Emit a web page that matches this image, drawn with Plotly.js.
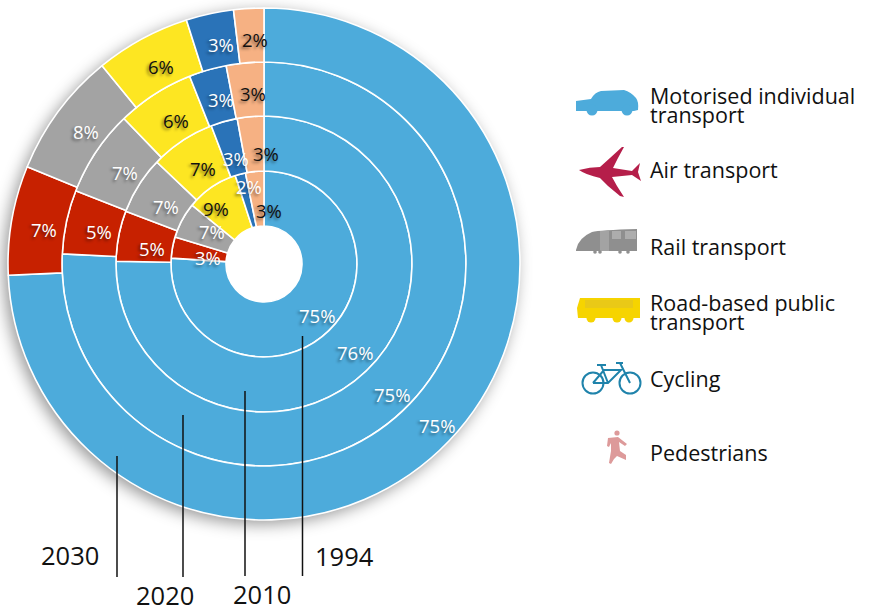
<!DOCTYPE html>
<html><head><meta charset="utf-8">
<script src="https://cdn.plot.ly/plotly-3.0.1.min.js"></script>
<style>
html,body{margin:0;padding:0;background:#fff;width:872px;height:610px;overflow:hidden}
#halo{position:absolute;left:8px;top:8px;width:512px;height:512px;border-radius:50%;box-shadow:-4px 4px 16px rgba(0,0,0,.42)}
#chart{position:absolute;left:0;top:0;width:872px;height:610px}
</style></head><body>
<div id="halo"></div><div id="chart"></div>
<script>
// ---- data ----
const categories = ['Motorised individual transport','Air transport','Rail transport','Road-based public transport','Cycling','Pedestrians'];
const years = ['1994','2010','2020','2030'];
const values1994 = [76.0,3.7,6.2,9.1,1.8,3.2];
const values2010 = [75.3,5.5,6.3,7.1,2.9,2.9];
const values2020 = [75.8,5.1,6.9,6.2,3.0,3.0];
const values2030 = [74.3,6.9,7.9,6.0,3.0,1.9];
const labels1994 = ['75%','3%','7%','9%','2%','3%'];
const labels2010 = ['76%','5%','7%','7%','3%','3%'];
const labels2020 = ['75%','5%','7%','6%','3%','3%'];
const labels2030 = ['75%','7%','8%','6%','3%','2%'];
const colors = ['#4dabdb','#c72100','#a3a3a3','#fde622','#2a73b8','#f6b183'];
const labelInk = ['#fff','#fff','#fff','#111','#fff','#111'];

// ---- layout helpers (page pixels -> paper fractions) ----
const W=872,H=610,CX=264,CY=264;
const px=x=>x/W, py=y=>1-y/H;
const radii=[38,93,148,202,256];
const series=[values1994,values2010,values2020,values2030];
const labelSets=[labels1994,labels2010,labels2020,labels2030];
const traces=series.map((v,i)=>{
  const R=radii[i+1];
  return {type:'pie',labels:categories,values:v,sort:false,direction:'clockwise',rotation:0,
    hole:radii[i]/R,textinfo:'none',showlegend:false,name:years[i],hoverinfo:'label+percent',
    domain:{x:[px(CX-R),px(CX+R)],y:[py(CY+R),py(CY-R)]},
    marker:{colors:colors,line:{color:'#fff',width:1.6}}};
});
// label anchor points on the page, one row per ring, same order as categories
const labelAnchors=[
 [[317,315],[208,257],[212,232],[216,208],[249,187],[269,211]],
 [[355,352],[152,248],[166,206],[203,168],[236,158],[266,153]],
 [[392,394],[99,232],[125,172],[176,121],[221,100],[253,94]],
 [[437,425],[44,229],[86,132],[161,67],[221,45],[255,40]]];
const FONT='"Open Sans",sans-serif';
const ann=[];
labelSets.forEach((set,r)=>set.forEach((t,c)=>ann.push({xref:'paper',yref:'paper',x:px(labelAnchors[r][c][0]),y:py(labelAnchors[r][c][1]),
  text:t,showarrow:false,xanchor:'center',yanchor:'middle',
  font:{family:FONT,size:18.5,color:labelInk[c],shadow:'-2px 2px 3px rgba(0,0,0,.45)'}})));
function txt(t,x,y,size,anchor){ann.push({xref:'paper',yref:'paper',x:px(x),y:py(y),text:t,showarrow:false,
  xanchor:anchor||'left',yanchor:'middle',font:{family:FONT,size:size,color:'#111'}});}
[['Motorised individual',95],['transport',114],['Air transport',170],['Rail transport',246],
 ['Road-based public',302],['transport',321],['Cycling',378],['Pedestrians',452]].forEach(l=>txt(l[0],648,l[1],21.5));
txt('2030',70,555,25.5,'center');txt('2020',165,595,25.5,'center');txt('2010',262,594,25.5,'center');txt('1994',344,556,25.5,'center');

const shapes=[];
const P=s=>s.replace(/(-?[\d.]+),(-?[\d.]+)/g,(m,a,b)=>px(+a).toFixed(5)+','+py(+b).toFixed(5));
function fill(d,c){shapes.push({type:'path',xref:'paper',yref:'paper',path:P(d),fillcolor:c,line:{width:0},layer:'above'});}
function stroke(d,c,w){shapes.push({type:'path',xref:'paper',yref:'paper',path:P(d),line:{color:c,width:w},layer:'above'});}
function disc(x,y,r,c,hollow){shapes.push({type:'circle',xref:'paper',yref:'paper',x0:px(x-r),x1:px(x+r),y0:py(y+r),y1:py(y-r),
  fillcolor:hollow?'rgba(0,0,0,0)':c,line:hollow?{color:c,width:2}:{width:0},layer:'above'});}
// year leader lines
[[117,456,577],[183,415,577],[245,391,576],[302.5,336,576]].forEach(l=>stroke(`M${l[0]},${l[1]} L${l[0]},${l[2]}`,'#111',1.5));
// car
const car='#4dabdb';
fill('M576,101 L591,99 Q595,92 601,91 L624,90 Q631,92 636,98 Q639,102 638,110 L634,111 L576,111 Z',car);
disc(592,110,5.5,car);disc(627,110,5.5,car);
// plane
fill('M579,170 Q590,167 600,167 L610,158 L622,147 L624,147 L618,158 L613,168 L632,171 L640,163 L638,172 L641,181 L632,175 L612,177 L617,186 L624,197 L620,196 L608,186 L600,178 Q586,175 579,170 Z','#b51e4a');
// train
fill('M576,250 Q578,238 592,232 Q600,230 637,229 L637,251 L576,251 Z','#8f8f8f');
fill('M612,231 L621,231 L621,239 L612,239 Z','#adadad');
fill('M625,231 L636,231 L636,239 L625,239 Z','#adadad');
fill('M600,231 L609,231 L609,251 L600,251 Z','#a3a3a3');
disc(595,252,1.8,'#8f8f8f');disc(600,252,1.8,'#8f8f8f');disc(620,252,1.8,'#8f8f8f');disc(628,252,1.8,'#8f8f8f');
// bus
const bus='#f6d400';
fill('M580,298 L640,298 L640,318 L578,318 L577,308 Z',bus);
fill('M585,300 L633,300 L633,308 L585,308 Z','#e9c917');
disc(591,318,4.5,bus);disc(617,318,4.5,bus);disc(629,318,4.5,bus);
// bicycle
const bike='#1f83ab';
disc(593,383,10.5,bike,true);disc(630,383,10.5,bike,true);
stroke('M593,383 L604,370 L621,370 L608,383 L593,383 M601,365 L608,383 M620,363 L630,383',bike,2);
stroke('M597,365 L606,365 M616,363 L623,363',bike,2);
// pedestrian
const walk='#dd9a9a';
disc(617,433,2.6,walk);
fill('M608,438 L618,437 L627,444 L625,446 L619,442 L620,451 L626,455 L626,460 L617,456 L614,459 L611,464 L609,463 L611,451 L611,443 L609,447 L607,446 Z',walk);

Plotly.newPlot('chart',traces,{width:W,height:H,margin:{l:0,r:0,t:0,b:0},paper_bgcolor:'rgba(0,0,0,0)',plot_bgcolor:'rgba(0,0,0,0)',
  annotations:ann,shapes:shapes,font:{family:FONT}},{displayModeBar:false,staticPlot:true});
</script></body></html>
